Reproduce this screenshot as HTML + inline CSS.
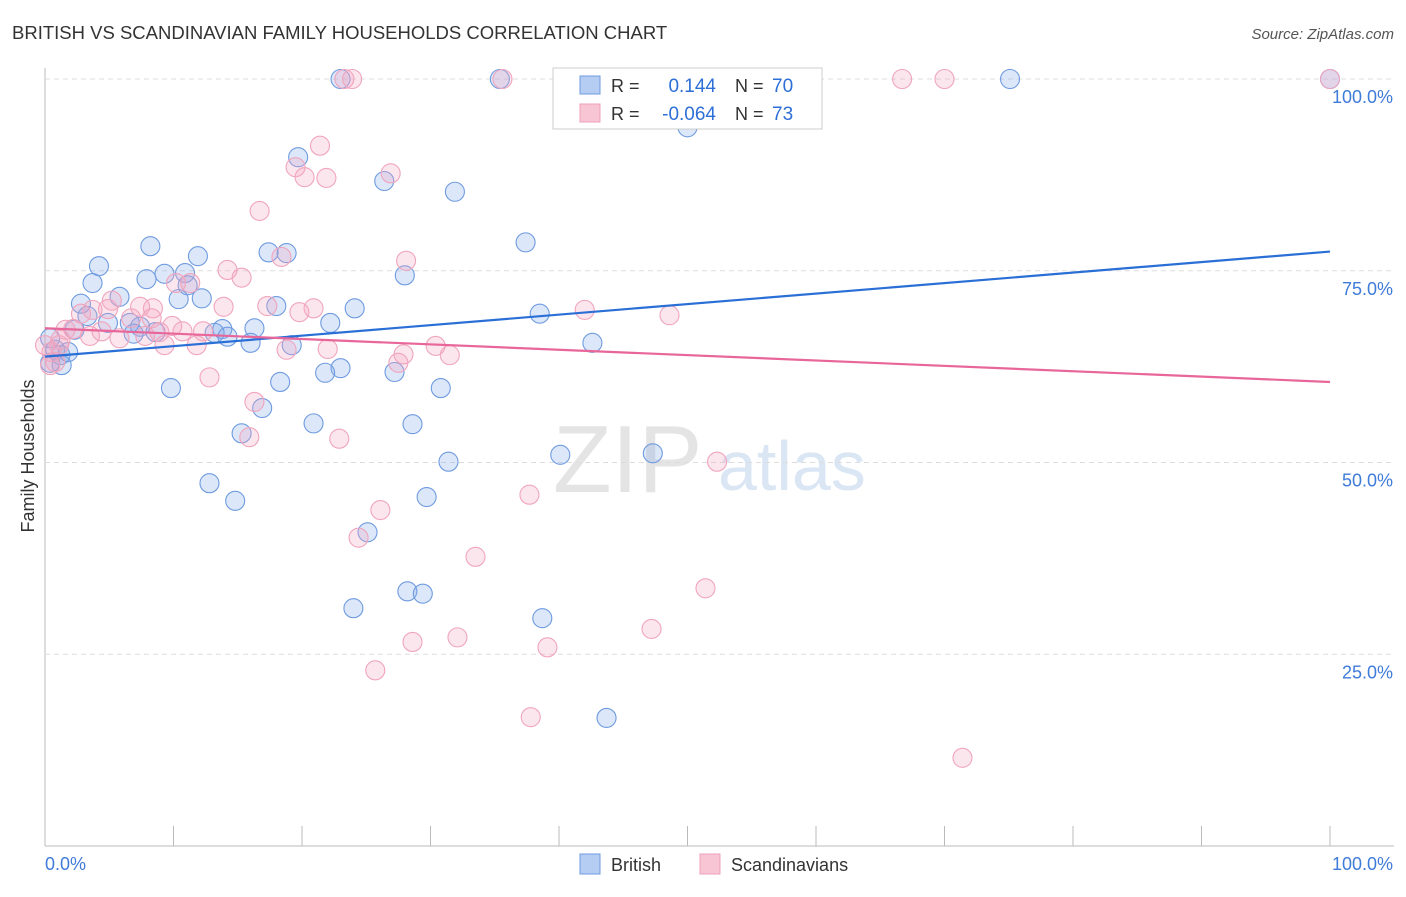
<!DOCTYPE html>
<html><head><meta charset="utf-8"><style>
body{margin:0;background:#fff;font-family:"Liberation Sans",sans-serif}
svg text{font-family:"Liberation Sans",sans-serif}
</style></head><body>
<svg id="c" width="1406" height="892">
<text x="12" y="39" font-size="18.5" fill="#333">BRITISH VS SCANDINAVIAN FAMILY HOUSEHOLDS CORRELATION CHART</text>
<text x="1394" y="39" font-size="15" fill="#555" font-style="italic" text-anchor="end">Source: ZipAtlas.com</text>
<text x="34" y="456" font-size="18" fill="#333" text-anchor="middle" transform="rotate(-90 34 456)">Family Households</text>
<text x="553" y="492" font-size="96" fill="#e4e4e4" font-family="Liberation Serif">ZIP</text>
<text x="718" y="490" font-size="70" fill="#dbe6f5">atlas</text>
<g id="grid"></g><g id="pts"></g><g id="lines"></g>
<g>
<rect x="553" y="68" width="269" height="61" fill="#fff" stroke="#ccc"/>
<rect x="580" y="76" width="20" height="18" fill="#b5cdf3" stroke="#6f9be0"/>
<rect x="580" y="104" width="20" height="18" fill="#f8c5d5" stroke="#ef9fb8"/>
<text x="611" y="92" font-size="18" fill="#333">R =</text><text x="716" y="92" font-size="19" fill="#2d6fd6" text-anchor="end">0.144</text>
<text x="735" y="92" font-size="18" fill="#333">N =</text><text x="772" y="92" font-size="19" fill="#2d6fd6">70</text>
<text x="611" y="120" font-size="18" fill="#333">R =</text><text x="716" y="120" font-size="19" fill="#2d6fd6" text-anchor="end">-0.064</text>
<text x="735" y="120" font-size="18" fill="#333">N =</text><text x="772" y="120" font-size="19" fill="#2d6fd6">73</text>
</g>
<g>
<rect x="580" y="854" width="20" height="20" fill="#b5cdf3" stroke="#6f9be0"/>
<text x="611" y="871" font-size="18" fill="#333">British</text>
<rect x="700" y="854" width="20" height="20" fill="#f8c5d5" stroke="#ef9fb8"/>
<text x="731" y="871" font-size="18" fill="#333">Scandinavians</text>
</g>
</svg>
<script>
const bx=[23,35.4,75.1,100,50,19.7,26.4,31.9,37.4,8.2,11.9,17.4,18.8,4.2,9.3,10.9,7.9,28,3.7,5.8,10.4,12.2,2.8,18,24.1,11.1,3.3,38.5,4.9,6.6,7.4,8.6,22.2,13.8,16.3,6.9,13.2,14.2,16,19.2,42.6,0.4,0.8,1.2,1.3,1.8,2.3,27.2,23,21.8,18.3,9.8,30.8,16.9,20.9,28.6,15.3,31.4,40.1,47.3,12.8,14.8,29.7,25.1,24,28.2,29.4,38.7,43.7,0.4];
const by=[100,100,100,100,93.7,89.8,86.7,85.3,78.7,78.2,76.9,77.4,77.3,75.6,74.6,74.7,73.9,74.4,73.4,71.6,71.3,71.4,70.7,70.4,70.1,73.1,69.1,69.4,68.2,68.2,67.7,67,68.2,67.4,67.5,66.8,66.9,66.4,65.6,65.3,65.6,66.2,64.7,64,62.7,64.4,67.3,61.8,62.3,61.7,60.5,59.7,59.7,57.1,55.1,55,53.8,50.1,51,51.2,47.3,45,45.5,40.9,31,33.2,32.9,29.7,16.7,63];
const sx=[23.3,23.9,35.6,66.7,70,100,21.4,19.5,20.2,21.9,26.9,16.7,28.1,18.4,14.2,15.3,11.3,10.2,5.2,7.4,8.4,13.9,17.3,20.9,19.8,42,48.6,2.8,3.7,4.9,6.7,8.3,9.9,10.7,12.3,8.9,3.5,5.8,4.4,2.2,7.8,9.3,11.8,18.8,22,27.9,30.4,31.5,27.5,1.1,0.5,0.8,12.8,16.3,15.9,22.9,52.3,37.7,26.1,24.4,33.5,51.4,47.2,32.1,28.6,39.1,25.7,37.8,71.4,1.2,0,0.4,1.6];
const sy=[100,100,100,100,100,100,91.3,88.5,87.2,87.1,87.7,82.8,76.3,76.8,75.1,74.1,73.4,73.4,71.1,70.3,70.1,70.3,70.4,70.1,69.6,69.9,69.2,69.4,69.9,70,68.8,68.8,67.8,67.1,67.1,67,66.5,66.2,67.1,67.4,66.5,65.3,65.3,64.7,64.8,64.1,65.2,64,63,65.3,64.4,63.1,61.1,57.9,53.3,53.1,50.1,45.8,43.8,40.2,37.7,33.6,28.3,27.2,26.6,25.9,22.9,16.8,11.5,66,65.3,62.7,67.3];
const trendBlue=[63.8,77.5];
const trendPink=[67.5,60.5];
const yTicks=[25,50,75,100];
const xTickLabels=["0.0%","100.0%"];
const NS="http://www.w3.org/2000/svg";
const X=v=>45+v*12.85, Y=v=>846-v*7.67;
function mk(t,a,p){const e=document.createElementNS(NS,t);for(const k in a)e.setAttribute(k,a[k]);p.appendChild(e);return e;}
const g=document.getElementById('grid');
mk('line',{x1:45,y1:68,x2:45,y2:846,stroke:'#bbb'},g);
mk('line',{x1:45,y1:846,x2:1394,y2:846,stroke:'#bbb'},g);
for(let i=1;i<=10;i++){mk('line',{x1:45+i*128.5,y1:826,x2:45+i*128.5,y2:846,stroke:'#bbb'},g);}
yTicks.forEach(v=>{
 const l=mk('line',{x1:45,y1:Y(v),x2:1394,y2:Y(v),stroke:'#ddd','stroke-dasharray':'5,4'},g);
 
 
 const t=mk('text',{x:1393,y:Y(v)+24,'font-size':18,fill:'#3f7bd9','text-anchor':'end'},g);
 t.textContent=v.toFixed(1)+'%';
 
 
});
const t0=mk('text',{x:45,y:870,'font-size':18,fill:'#3f7bd9'},g);t0.textContent=xTickLabels[0];


const t1=mk('text',{x:1393,y:870,'font-size':18,fill:'#3f7bd9','text-anchor':'end'},g);t1.textContent=xTickLabels[1];


const p=document.getElementById('pts');
bx.forEach((v,i)=>{const c=mk('circle',{cx:X(v),cy:Y(by[i]),r:9.5,fill:'rgba(130,170,235,0.28)',stroke:'#6f9be0','stroke-width':1.1},p);
 
 });
sx.forEach((v,i)=>{const c=mk('circle',{cx:X(v),cy:Y(sy[i]),r:9.5,fill:'rgba(245,165,195,0.28)',stroke:'#f0a5bd','stroke-width':1.1},p);
 
 });
const L=document.getElementById('lines');
const lb=mk('line',{x1:X(0),y1:Y(trendBlue[0]),x2:X(100),y2:Y(trendBlue[1]),stroke:'#2a6fd6','stroke-width':2.2},L);


const lp=mk('line',{x1:X(0),y1:Y(trendPink[0]),x2:X(100),y2:Y(trendPink[1]),stroke:'#e8669a','stroke-width':2.2},L);


</script>
</body></html>
